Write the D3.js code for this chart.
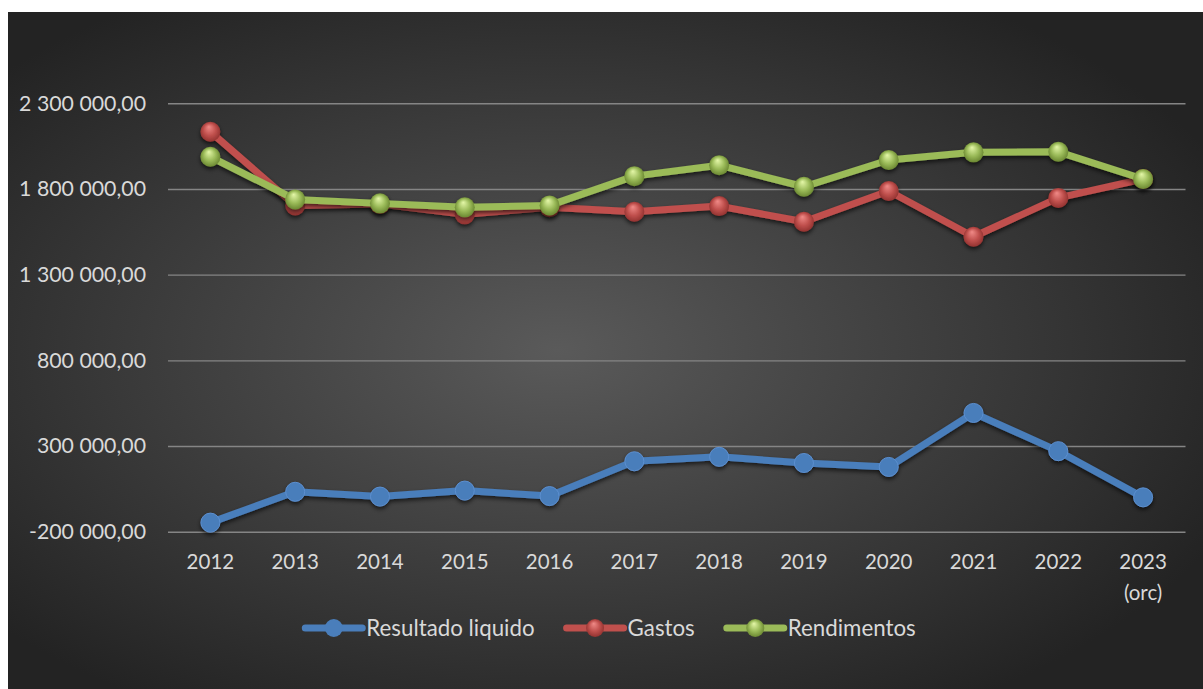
<!DOCTYPE html>
<html>
<head>
<meta charset="utf-8">
<script src="https://cdn.jsdelivr.net/npm/d3@7"></script>
<style>
  html, body { margin: 0; padding: 0; background: #fff; }
  svg { display: block; }
  text { font-family: Lato, "Open Sans", sans-serif; fill: #d9d9d9; }
</style>
</head>
<body>
<script>
// data
const years = ["2012", "2013", "2014", "2015", "2016", "2017", "2018", "2019", "2020", "2021", "2022", "2023\n(orc)"]
const resultado = [-147000, 33000, 5000, 40000, 8000, 211000, 237000, 201000, 178000, 493000, 270000, 500]
const gastos = [2134000, 1704000, 1712000, 1652000, 1694000, 1667000, 1700000, 1609000, 1788000, 1521000, 1748000, 1858000]
const rendimentos = [1988000, 1739000, 1716000, 1693000, 1704000, 1875000, 1939000, 1813000, 1969000, 2014000, 2017000, 1858000]
const yTicks = [-200000, 300000, 800000, 1300000, 1800000, 2300000]
const seriesNames = ["Resultado liquido", "Gastos", "Rendimentos"]

const W = 1203, H = 689
const svg = d3.select('body').append('svg').attr('width', W).attr('height', H)
const defs = svg.append('defs')

// background
let bg = defs.append('radialGradient').attr('id', 'bg').attr('cx', '46%').attr('cy', '50%').attr('r', '62%')
bg.append('stop').attr('offset', '0%').attr('stop-color', '#5a5a5a')
bg.append('stop').attr('offset', '100%').attr('stop-color', '#232323')
svg.append('rect').attr('x', 8).attr('y', 12).attr('width', W - 8).attr('height', H - 12).attr('fill', 'url(#bg)')

// shadow under lines and markers
defs.append('filter').attr('id', 'shadow').attr('x', '-20%').attr('y', '-20%').attr('width', '140%').attr('height', '140%')
  .append('feDropShadow').attr('dx', 0).attr('dy', 2.5).attr('stdDeviation', 2).attr('flood-color', '#000').attr('flood-opacity', 0.65)

const colors = ["#4a7ebb", "#c0504d", "#9bbb59"]
const lights = ["#6a9ad6", "#f08a87", "#e4f7a8"]
const darks = ["#3d6ca6", "#8c2e2c", "#64802c"]
colors.forEach((c, i) => {
  let g = defs.append('radialGradient').attr('id', 'ball' + i).attr('cx', '50%').attr('cy', '50%').attr('r', '55%')
    .attr('fx', '42%').attr('fy', '25%')
  g.append('stop').attr('offset', '0%').attr('stop-color', lights[i])
  g.append('stop').attr('offset', '55%').attr('stop-color', c)
  g.append('stop').attr('offset', '100%').attr('stop-color', darks[i])
})

const x = d3.scaleBand().domain(years).range([168, 1185.5])
const y = d3.scaleLinear().domain([-200000, 2300000]).range([531.7, 103.3])

const locale = d3.formatLocale({decimal: ",", thousands: "\u00a0", grouping: [3], currency: ["", ""], minus: "-"})
const fmt = locale.format(",.2f")

// gridlines + y labels
let yAxis = svg.append('g').attr('transform', 'translate(168,0)')
  .call(d3.axisLeft(y).tickValues(yTicks).tickFormat(fmt).tickSize(-(1185.5 - 168)).tickPadding(22))
yAxis.select('.domain').remove()
yAxis.selectAll('.tick line').attr('stroke', '#858585').attr('stroke-width', 1.4)
yAxis.selectAll('.tick text').attr('font-size', 21.3).attr('fill', '#d9d9d9').attr('font-family', 'Lato')

// x labels
let xAxis = svg.append('g').attr('transform', 'translate(0,532)')
  .call(d3.axisBottom(x).tickSize(0).tickPadding(0).tickFormat(''))
xAxis.select('.domain').remove()
xAxis.selectAll('.tick').each(function (d) {
  let t = d3.select(this).append('text').attr('font-size', 20.5).attr('text-anchor', 'middle').attr('fill', '#d9d9d9')
  d.split('\n').forEach((part, k) => {
    t.append('tspan').attr('x', 0).attr('y', 37 + k * 31).text(part)
  })
})

// series
const allSeries = [resultado, gastos, rendimentos]
const line = d3.line().x((d, i) => x(years[i]) + x.bandwidth() / 2).y(d => y(d))
allSeries.forEach((vals, i) => {
  let g = svg.append('g').attr('filter', 'url(#shadow)')
  g.append('path').datum(vals).attr('d', line).attr('fill', 'none')
    .attr('stroke', colors[i]).attr('stroke-width', 7).attr('stroke-linejoin', 'round')
  g.selectAll('circle').data(vals).enter().append('circle')
    .attr('cx', (d, k) => x(years[k]) + x.bandwidth() / 2).attr('cy', d => y(d))
    .attr('r', i == 0 ? 9.5 : 10).attr('fill', i == 0 ? colors[0] : 'url(#ball' + i + ')')
    .attr('stroke', i == 0 ? '#5b8fd0' : 'none').attr('stroke-width', 1)
})

// legend
let legend = svg.append('g')
let items = legend.selectAll('g').data(seriesNames).enter().append('g')
items.append('line').attr('x1', 0).attr('x2', 57).attr('y1', 0).attr('y2', 0)
  .attr('stroke', (d, i) => colors[i]).attr('stroke-width', 7).attr('stroke-linecap', 'round')
items.append('circle').attr('cx', 28.5).attr('cy', 0).attr('r', 9)
  .attr('fill', (d, i) => i == 0 ? colors[0] : 'url(#ball' + i + ')')
items.append('text').attr('x', 61).attr('y', 7.5).attr('font-size', 22.3).text(d => d)
let offs = [], pos = 0
items.each(function () {
  offs.push(pos)
  pos += this.getBBox().width + 32
})
let total = pos - 32
let start = 610.5 - total / 2
items.attr('transform', (d, i) => `translate(${start + offs[i]},628)`)
</script>
</body>
</html>
